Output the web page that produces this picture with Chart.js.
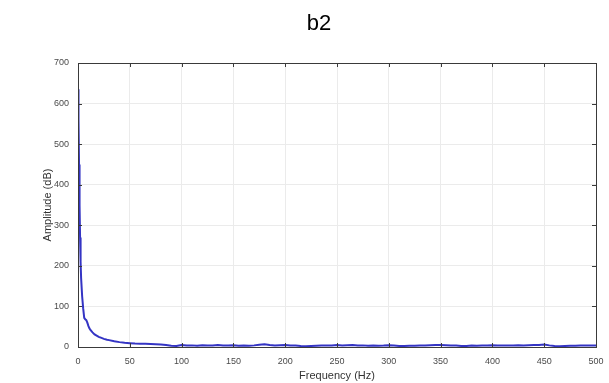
<!DOCTYPE html>
<html>
<head>
<meta charset="utf-8">
<script src="https://cdn.jsdelivr.net/npm/chart.js@4/dist/chart.umd.min.js"></script>
<style>
  html, body { margin: 0; padding: 0; background: #fff; }
  #wrap { position: relative; width: 609px; height: 383px; }
  #title { position: absolute; left: 289px; width: 60px; top: 10px; text-align: center;
           font-family: Arial, "Liberation Sans", sans-serif; font-size: 22px; color: #000; }
</style>
</head>
<body>
<div id="wrap">
  <canvas id="chart" width="609" height="383"></canvas>
  <div id="title">b2</div>
</div>
<script>
// frequency (Hz) and amplitude values
const freq = [0, 0.5, 1, 1.5, 2, 2.5, 3, 4, 5, 6, 7, 8, 9, 10, 11, 12, 14, 16, 18, 20, 22, 25, 28, 30, 35, 40, 45,
  50, 55, 60, 65, 70, 75, 80, 85, 90, 95, 100, 105, 110, 115, 120, 125, 130, 135, 140, 145, 150, 155, 160, 165, 170,
  175, 180, 185, 190, 195, 200, 205, 210, 215, 220, 225, 230, 235, 240, 245, 250, 255, 260, 265, 270, 275, 280, 285,
  290, 295, 300, 305, 310, 315, 320, 325, 330, 335, 340, 345, 350, 355, 360, 365, 370, 375, 380, 385, 390, 395, 400,
  405, 410, 415, 420, 425, 430, 435, 440, 445, 450, 455, 460, 465, 470, 475, 480, 485, 490, 495, 500];
const amp = [635, 560, 450, 350, 270, 210, 170, 125, 95, 72, 68, 66, 60, 52, 46, 42, 36, 31, 28, 25, 23, 20, 18, 17, 14, 12, 10.5,
  9.5, 8.5, 8, 8, 7.5, 7, 6, 5, 3, 2.5, 5, 3.5, 4, 3, 4.5, 3.5, 4, 5, 4, 3.5, 4.5, 3, 3.5, 3, 4,
  5.5, 6.5, 5, 4, 4.5, 5, 3.5, 3.5, 2.5, 2, 2.5, 3, 3.5, 4, 3.5, 5, 4, 4.5, 5, 3.5, 4, 3, 3.5,
  3, 3.5, 4.5, 3.5, 2.5, 2.5, 3, 3, 3.5, 3.5, 4.5, 5, 5, 4.5, 4, 3.5, 2.5, 2.5, 3.5, 3, 3.5, 4, 4.5,
  3.5, 3.5, 3.5, 4, 4.5, 4, 4.5, 5, 5, 6, 4, 2.5, 2, 2.5, 3, 3, 3.5, 3.5, 4, 4];
const xTicks = [0, 50, 100, 150, 200, 250, 300, 350, 400, 450, 500];
const yTicks = [0, 100, 200, 300, 400, 500, 600, 700];

const points = freq.map((f, i) => ({ x: f, y: amp[i] }));

// matlab style box round the plot area, with small inward ticks on every side
const boxPlugin = {
  id: "box",
  afterDraw(chart) {
    const { ctx, chartArea: a, scales } = chart;
    ctx.save();
    ctx.strokeStyle = "#3a3a3a";
    ctx.lineWidth = 1;
    ctx.strokeRect(a.left + 0.5, a.top + 0.5, a.right - a.left, a.bottom - a.top);
    ctx.beginPath();
    xTicks.forEach(t => {
      const px = Math.round(scales.x.getPixelForValue(t)) + 0.5;
      ctx.moveTo(px, a.top); ctx.lineTo(px, a.top + 4);
      ctx.moveTo(px, a.bottom); ctx.lineTo(px, a.bottom - 4);
    });
    yTicks.forEach(t => {
      const py = Math.round(scales.y.getPixelForValue(t)) + 0.5;
      ctx.moveTo(a.left, py); ctx.lineTo(a.left + 4, py);
      ctx.moveTo(a.right, py); ctx.lineTo(a.right - 4, py);
    });
    ctx.stroke();
    ctx.restore();
  }
};

const tickFont = { family: "Arial, 'Liberation Sans', sans-serif", size: 9 };
const titleFont = { family: "Arial, 'Liberation Sans', sans-serif", size: 11 };

new Chart(document.getElementById("chart").getContext("2d"), {
  type: "line",
  data: {
    datasets: [{
      data: points,
      borderColor: "#3434c4",
      borderWidth: 2,
      pointRadius: 0,
      tension: 0,
      fill: false
    }]
  },
  options: {
    responsive: false,
    animation: false,
    layout: { padding: { top: 63, right: 13, left: 0, bottom: 0 } },
    plugins: { legend: { display: false }, tooltip: { enabled: false } },
    scales: {
      x: {
        type: "linear",
        min: 0, max: 500,
        afterBuildTicks: s => { s.ticks = xTicks.map(v => ({ value: v })); },
        afterFit: s => { s.height = 36; s.paddingRight = 0; },
        grid: { color: "#ebebeb", drawTicks: false },
        border: { display: false },
        ticks: { font: tickFont, color: "#4a4a4a", padding: 9, maxRotation: 0 },
        title: { display: true, text: "Frequency (Hz)", font: titleFont, color: "#333", padding: { top: 0, bottom: 0 } }
      },
      y: {
        min: 0, max: 700,
        afterBuildTicks: s => { s.ticks = yTicks.map(v => ({ value: v })); },
        afterFit: s => { s.width = 78; },
        grid: { color: "#ebebeb", drawTicks: false },
        border: { display: false },
        ticks: { font: tickFont, color: "#4a4a4a", padding: 9 },
        title: { display: true, text: "Amplitude (dB)", font: titleFont, color: "#333", padding: { top: 41, bottom: 0 } }
      }
    }
  },
  plugins: [boxPlugin]
});
</script>
</body>
</html>
